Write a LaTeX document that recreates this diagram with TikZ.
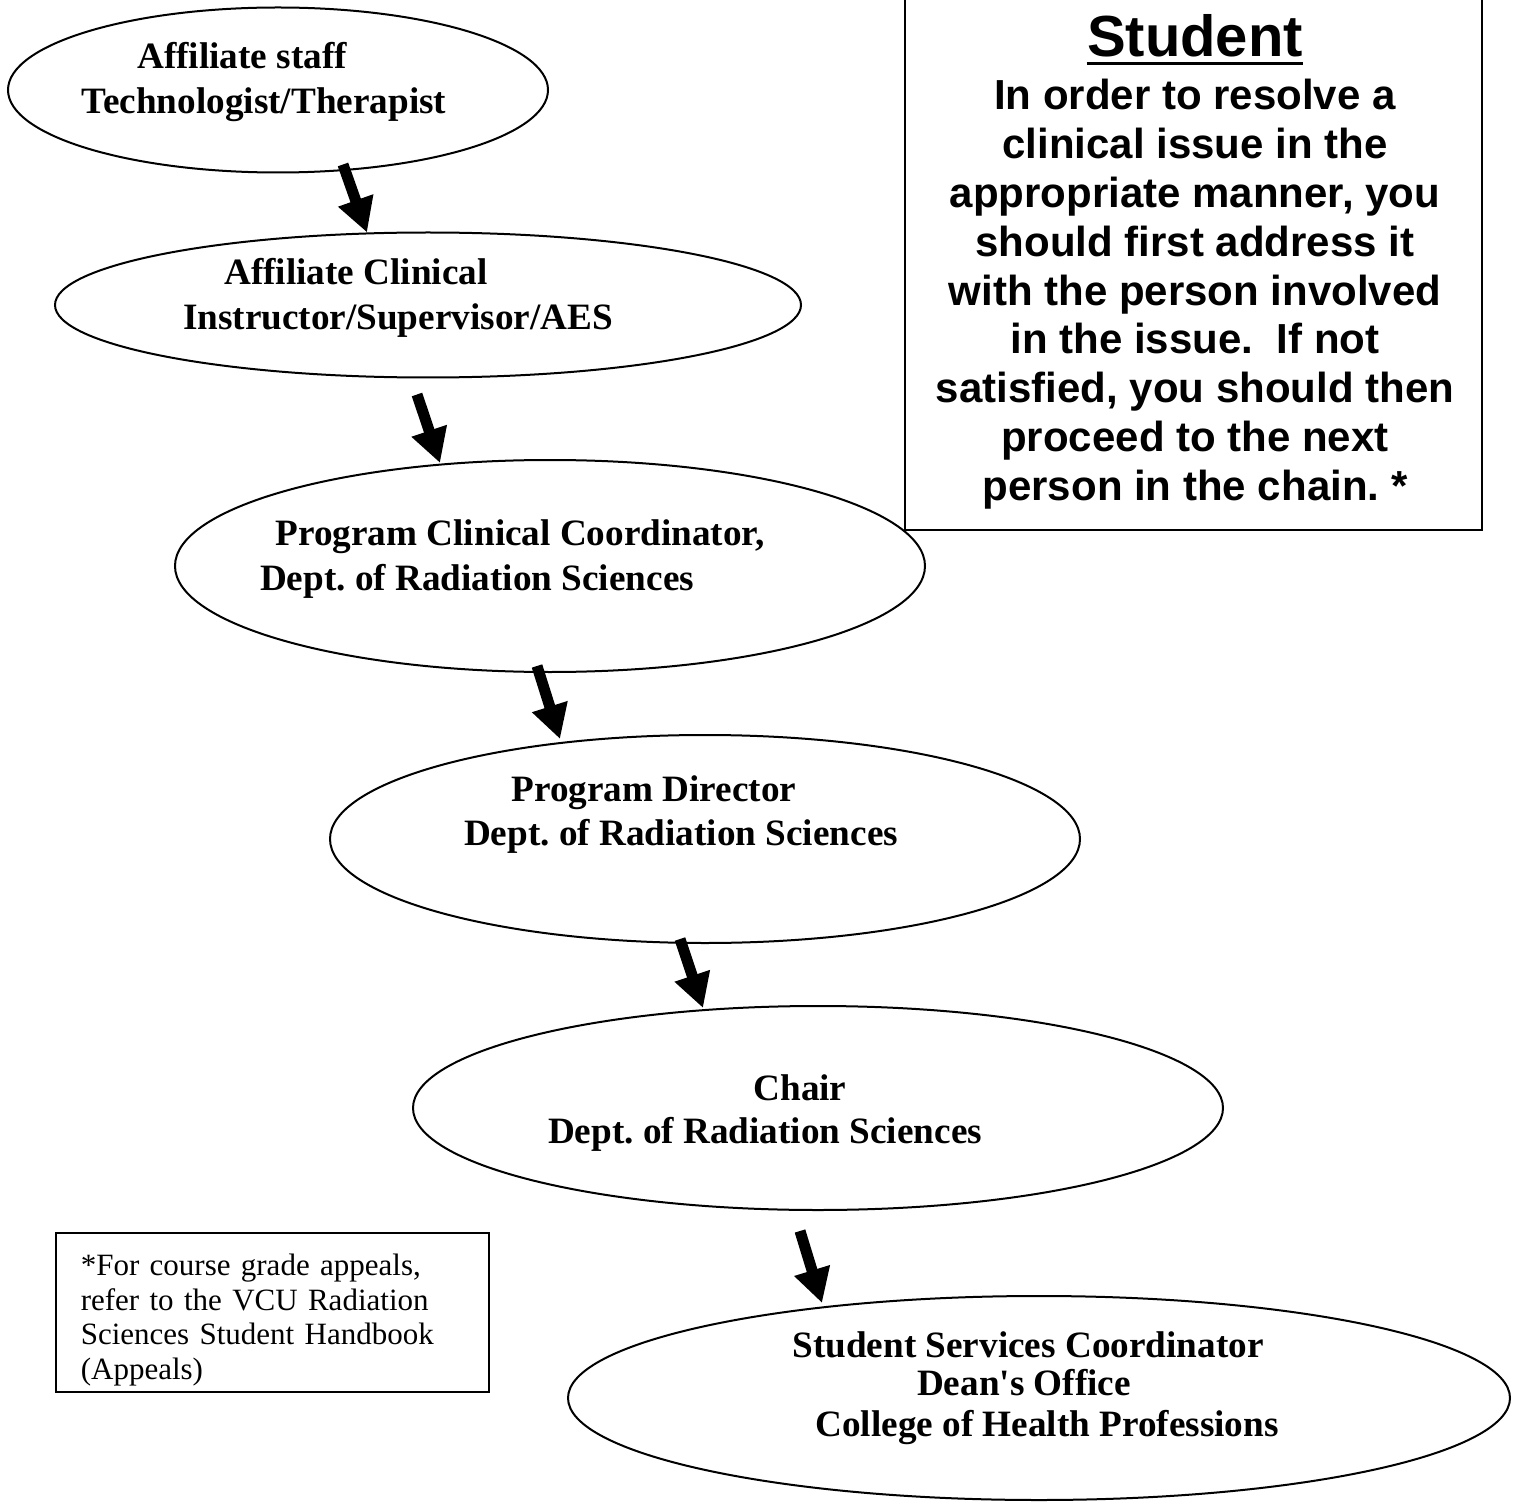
\documentclass[tikz,border=0pt]{standalone}
\usepackage{fontspec}
\setmainfont{Liberation Serif}
\setsansfont{Liberation Sans}
\usetikzlibrary{arrows.meta, positioning, calc, shapes.geometric}
\frenchspacing

\begin{document}
\begin{tikzpicture}[
  x=0.5pt, y=-0.5pt,
  ellnode/.style 2 args={
    ellipse, draw, line width=1pt, inner sep=0pt,
    minimum width=#1*0.5pt, minimum height=#2*0.5pt
  },
  lbl/.style={font=\fontsize{18.6}{22}\selectfont\bfseries, anchor=base, inner sep=0pt},
  arr/.style={-{Triangle[length=17pt, width=17.5pt]}, line width=5.5pt},
  stutext/.style={font=\sffamily\bfseries\fontsize{21}{24.4}\selectfont, align=center, inner sep=0pt},
  notebox/.style={draw, line width=0.8pt, align=left, text width=191.5pt,
    inner xsep=12.5pt, inner ysep=3pt, font=\fontsize{15.5}{17.25}\selectfont},
  boxline/.style={line width=1pt},
]

% Page
\useasboundingbox (0,0) rectangle (1520,1508);
\fill[white] (0,0) rectangle (1520,1508);

% Chain of ellipses
\node[ellnode={540}{165}] (e1) at (278,90) {};
\node[ellnode={746}{145}] (e2) at (428,305) {};
\node[ellnode={750}{212}] (e3) at (550,566) {};
\node[ellnode={750}{208}] (e4) at (705,839) {};
\node[ellnode={810}{204}] (e5) at (818,1108) {};
\node[ellnode={942}{204}] (e6) at (1039,1398) {};

% Labels
\node[lbl] (e1a) at (242,69) {Affiliate staff};
\node[lbl] (e1b) at (264,114) {Technologist/Therapist};

\node[lbl] (e2a) at (356,285) {Affiliate Clinical};
\node[lbl] (e2b) at (398,330) {Instructor/Supervisor/AES};

\node[lbl] (e3a) at (520,545) {Program Clinical Coordinator,};
\node[lbl] (e3b) at (477,590) {Dept. of Radiation Sciences};

\node[lbl] (e4a) at (654,801) {Program Director};
\node[lbl] (e4b) at (681,845) {Dept. of Radiation Sciences};

\node[lbl] (e5a) at (800,1100) {Chair};
\node[lbl] (e5b) at (765,1143) {Dept. of Radiation Sciences};

\node[lbl] (e6a) at (1028,1357) {Student Services Coordinator};
\node[lbl] (e6b) at (1024,1395) {Dean\textquotesingle s Office};
\node[lbl] (e6c) at (1047,1436) {College of Health Professions};

% Arrows down the chain
\draw[arr] ($(e1.south)+(65,-9)$) -- ($(e2.north)+(-61,1)$);
\draw[arr] ($(e2.south)+(-11,16)$) -- ($(e3.north)+(-110,4)$);
\draw[arr] ($(e3.south)+(-13,-7)$) -- ($(e4.north)+(-145,5)$);
\draw[arr] ($(e4.south)+(-25,-5)$) -- ($(e5.north)+(-115,3)$);
\draw[arr] ($(e5.south)+(-18,20)$) -- ($(e6.north)+(-217,8)$);

% Student box
\draw[boxline] (905,0) |- (1482,530) -- (1482,0);
\node[stutext, anchor=base] (sttl) at (1195,57)
  {\fontsize{29}{32}\selectfont Student};
\draw[line width=1.5pt] ([yshift=-3.5pt]sttl.base west) -- ([yshift=-3.5pt]sttl.base east);
\node[stutext, anchor=north] (stbody) at (1195,79)
  {In order to resolve a\\
   clinical issue in the\\
   appropriate manner, you\\
   should first address it\\
   with the person involved\\
   in the issue.\ \ If not\\
   satisfied, you should then\\
   proceed to the next\\
   person in the chain. *};

% Footnote
\node[notebox, anchor=north west] (note) at (55,1232)
  {\rule{0pt}{18.5pt}*For course grade appeals,\\
   refer to the VCU Radiation\\
   Sciences Student Handbook\\
   (Appeals)};

\end{tikzpicture}
\end{document}
